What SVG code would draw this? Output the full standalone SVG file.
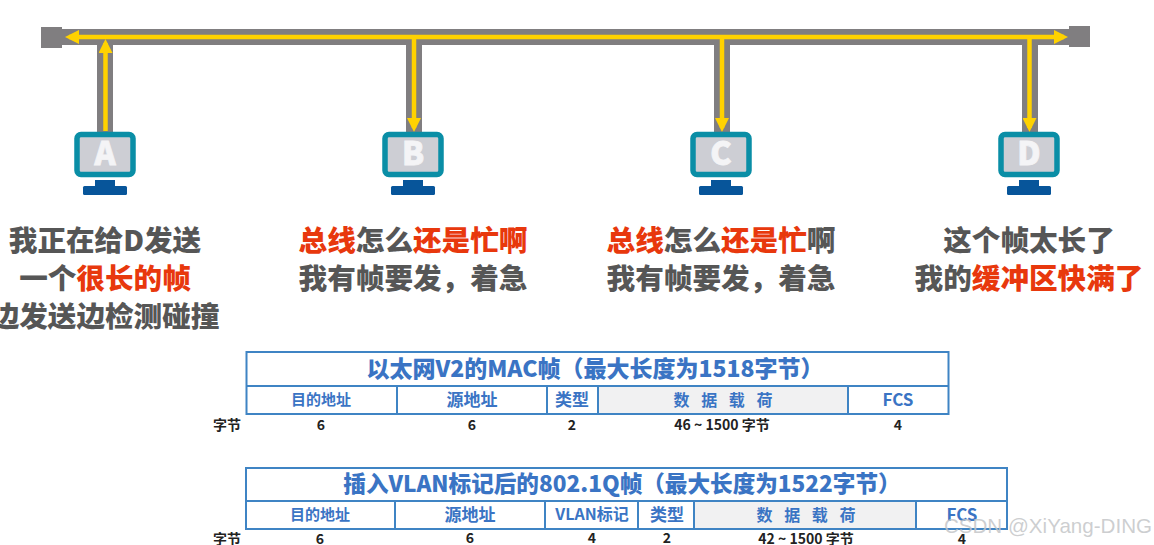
<svg xmlns="http://www.w3.org/2000/svg" width="1154" height="545" viewBox="0 0 1154 545">
<defs>
<g id="pc">
<rect x="-29" y="-30.500" width="56" height="40" rx="4" fill="#cdced4" stroke="#0a8ea6" stroke-width="5.500"/>
<rect x="-11" y="15" width="20" height="7" fill="#07559a"/>
<rect x="-23" y="21" width="44" height="9" rx="1.500" fill="#07559a"/>
</g>
<marker id="ah" viewBox="0 0 14 14" refX="10" refY="7" markerWidth="14" markerHeight="14" markerUnits="userSpaceOnUse" orient="auto-start-reverse"><path d="M0 0L14 7L0 14Z" fill="#ffd200"/></marker>
</defs>
<style>
text{font-family:"Noto Sans CJK SC","Liberation Sans",sans-serif;font-weight:700;text-anchor:middle}
.gl{fill:#807e80}
.y{stroke:#ffd200;stroke-width:4.500;fill:none}
.big{font-size:28.600px;fill:#565656;font-weight:900}
.r{fill:#e8380d}
.ttl{font-size:23px;fill:#3a74c4;font-weight:900}
.hd{font-size:15px;fill:#3a74c4}
.hd2{font-size:17px;fill:#3a74c4}
.sp{font-size:16px;letter-spacing:4px}
.n{font-size:14px;fill:#222}
.letter{font-size:32px;fill:#f4f4f6;stroke:#f4f4f6;stroke-width:.8px;font-weight:900}
.box{fill:#fff;stroke:#3f84c4;stroke-width:2}
.div{stroke:#3f84c4;stroke-width:2;fill:none}
</style>
<g id="connectors">
<rect class="gl" x="41" y="27" width="21" height="21"/>
<rect class="gl" x="1069" y="26" width="21" height="21"/>
<rect class="gl" x="60" y="29" width="1012" height="16"/>
<rect class="gl" x="97" y="44" width="16" height="90"/>
<rect class="gl" x="406" y="44" width="16" height="90"/>
<rect class="gl" x="714" y="44" width="16" height="90"/>
<rect class="gl" x="1022" y="44" width="16" height="90"/>
<path class="y" d="M69 37H1064" marker-start="url(#ah)" marker-end="url(#ah)"/>
<path class="y" d="M105.500 131V43" marker-end="url(#ah)"/>
<path class="y" d="M414 37V128" marker-end="url(#ah)"/>
<path class="y" d="M722 37V128" marker-end="url(#ah)"/>
<path class="y" d="M1029.500 37V128" marker-end="url(#ah)"/>
</g>
<g id="node-a"><use href="#pc" x="106" y="165"/><text class="letter" x="105" y="165">A</text></g>
<g id="node-b"><use href="#pc" x="414" y="165"/><text class="letter" x="413" y="165">B</text></g>
<g id="node-c"><use href="#pc" x="722" y="165"/><text class="letter" x="721" y="165">C</text></g>
<g id="node-d"><use href="#pc" x="1030" y="165"/><text class="letter" x="1029" y="165">D</text></g>
<g id="caption-a">
<text class="big" x="105" y="251">我正在给D发送</text>
<text class="big" x="105" y="289">一个<tspan class="r">很长的帧</tspan></text>
<text class="big" x="105" y="327">边发送边检测碰撞</text>
</g>
<g id="caption-b">
<text class="big" x="413" y="251"><tspan class="r">总线</tspan>怎么<tspan class="r">还是忙啊</tspan></text>
<text class="big" x="413" y="289">我有帧要发，着急</text>
</g>
<g id="caption-c">
<text class="big" x="721" y="251"><tspan class="r">总线</tspan>怎么<tspan class="r">还是忙</tspan>啊</text>
<text class="big" x="721" y="289">我有帧要发，着急</text>
</g>
<g id="caption-d">
<text class="big" x="1029" y="251">这个帧太长了</text>
<text class="big" x="1029" y="289">我的<tspan class="r">缓冲区快满了</tspan></text>
</g>
<g id="frame-v2">
<rect class="box" x="246.500" y="352" width="702" height="62"/>
<rect x="598" y="387" width="250" height="26" fill="#f1f1f2"/>
<path class="div" d="M246 386H948M397 386V414M547 386V414M598 386V414M848 386V414"/>
<text class="ttl" x="595" y="377">以太网V2的MAC帧（最大长度为1518字节）</text>
<text class="hd" x="321" y="405">目的地址</text>
<text class="hd2" x="472" y="406">源地址</text>
<text class="hd2" x="572" y="406">类型</text>
<text class="hd2 sp" x="725" y="406">数 据 载 荷</text>
<text class="hd2" x="898" y="406">FCS</text>
<text class="n" x="227" y="430">字节</text>
<text class="n" x="321" y="430">6</text>
<text class="n" x="472" y="430">6</text>
<text class="n" x="572" y="430">2</text>
<text class="n" x="722" y="430">46 ~ 1500 字节</text>
<text class="n" x="898" y="430">4</text>
</g>
<g id="frame-q">
<rect class="box" x="246" y="468" width="761" height="61"/>
<rect x="694" y="502" width="222" height="26" fill="#f1f1f2"/>
<path class="div" d="M246 501H1007M395 501V529M545 501V529M638 501V529M694 501V529M916 501V529"/>
<text class="ttl" x="622" y="492" style="font-size:22.600px">插入VLAN标记后的802.1Q帧（最大长度为1522字节）</text>
<text class="hd" x="320" y="520">目的地址</text>
<text class="hd2" x="470" y="521">源地址</text>
<text class="hd" x="592" y="520" style="font-size:16px">VLAN标记</text>
<text class="hd2" x="667" y="521">类型</text>
<text class="hd2 sp" x="808" y="521">数 据 载 荷</text>
<text class="hd2" x="962" y="521">FCS</text>
<text class="n" x="227" y="544">字节</text>
<text class="n" x="320" y="544">6</text>
<text class="n" x="470" y="543">6</text>
<text class="n" x="592" y="543">4</text>
<text class="n" x="667" y="543">2</text>
<text class="n" x="806" y="544">42 ~ 1500 字节</text>
<text class="n" x="962" y="544">4</text>
</g>
<text x="1048" y="533" style="font-size:20.600px;font-weight:400;fill:#c4c6c8;fill-opacity:.85;font-family:'Liberation Sans',sans-serif">CSDN @XiYang-DING</text>
</svg>
